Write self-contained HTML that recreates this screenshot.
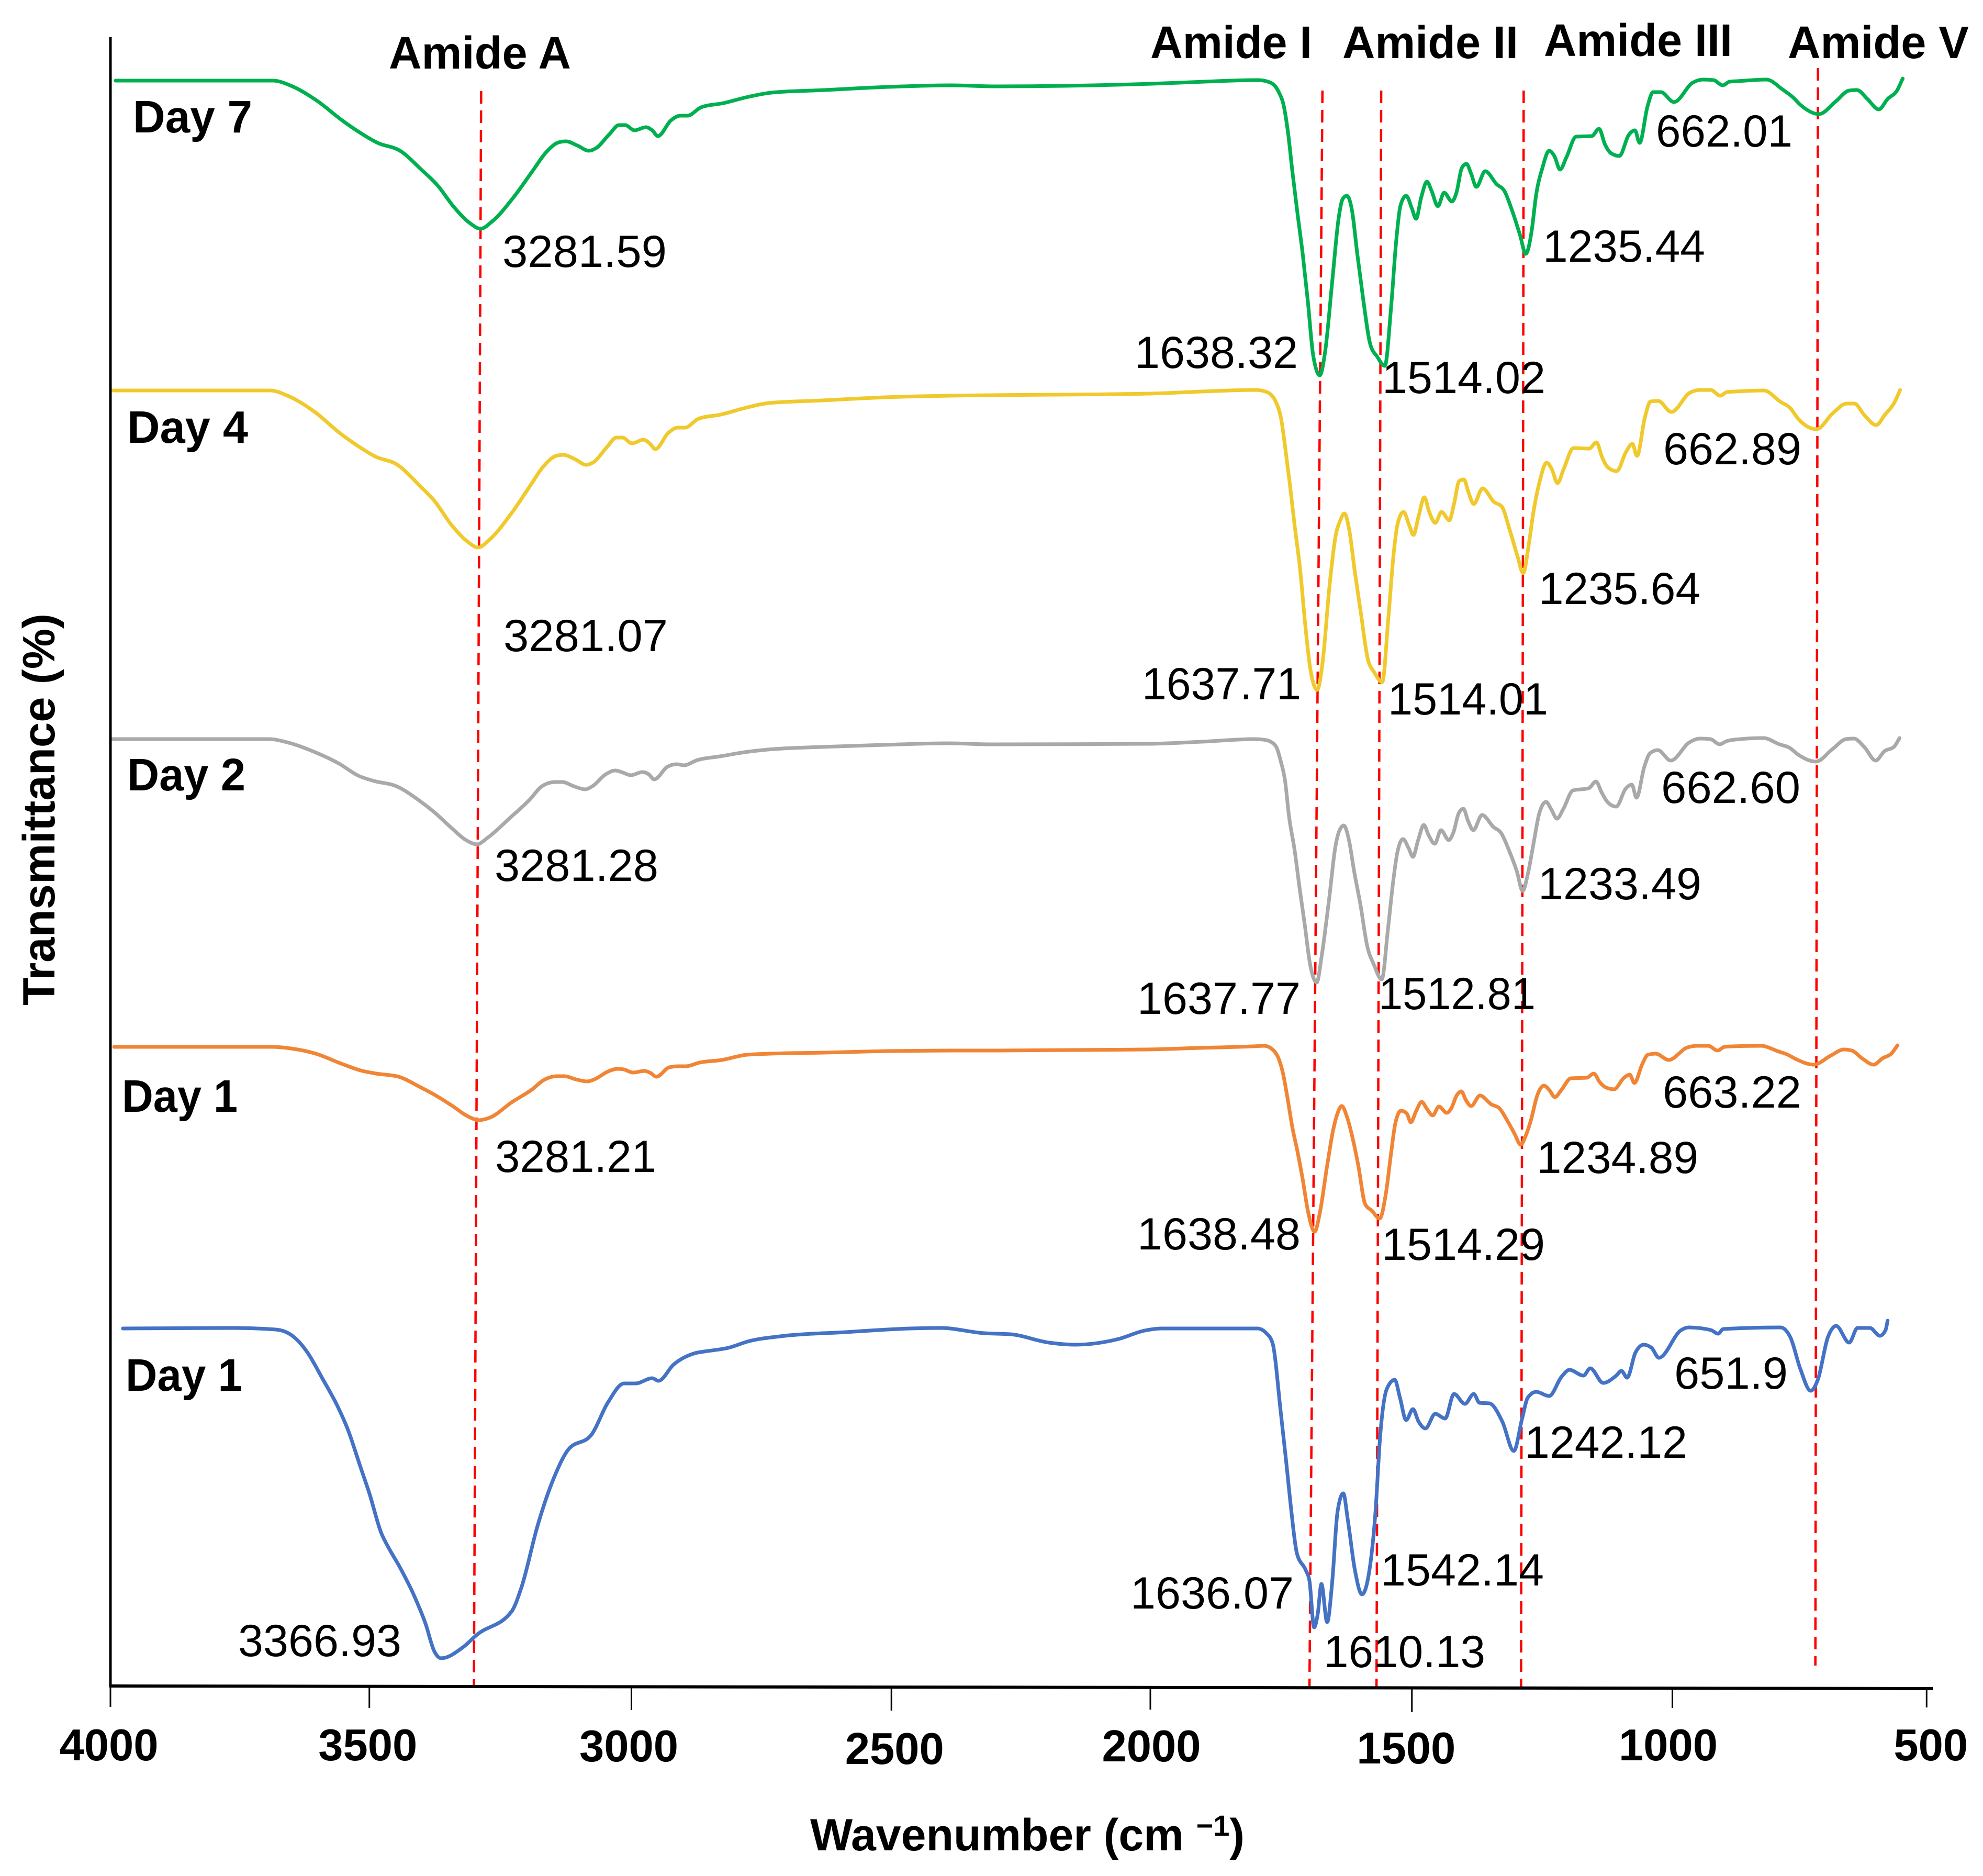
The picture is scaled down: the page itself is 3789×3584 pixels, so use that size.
<!DOCTYPE html>
<html lang="en">
<head>
<meta charset="utf-8">
<title>FTIR spectra</title>
<style>
html,body{margin:0;padding:0;background:#fff;}
svg{display:block;font-family:"Liberation Sans",sans-serif;fill:#000;}
.b{font-weight:700;font-size:87px;}
.n{font-size:86px;}
</style>
</head>
<body>
<svg id="chart" xmlns="http://www.w3.org/2000/svg" width="3789" height="3584" viewBox="0 0 3789 3584">
<rect width="3789" height="3584" fill="#fff"/>
<g id="markers"></g>
<g id="series"></g>
<g id="axes"></g>

<text class="b" x="743" y="131" textLength="348" lengthAdjust="spacingAndGlyphs">Amide A</text>
<text class="b" x="2198" y="111" textLength="309" lengthAdjust="spacingAndGlyphs">Amide I</text>
<text class="b" x="2565" y="111" textLength="336" lengthAdjust="spacingAndGlyphs">Amide II</text>
<text class="b" x="2950" y="107" textLength="360" lengthAdjust="spacingAndGlyphs">Amide III</text>
<text class="b" x="3416" y="111" textLength="346" lengthAdjust="spacingAndGlyphs">Amide V</text>

<text class="b" x="254" y="253" textLength="228" lengthAdjust="spacingAndGlyphs">Day 7</text>
<text class="b" x="243" y="846" textLength="231" lengthAdjust="spacingAndGlyphs">Day 4</text>
<text class="b" x="243" y="1510" textLength="226" lengthAdjust="spacingAndGlyphs">Day 2</text>
<text class="b" x="233" y="2124" textLength="221" lengthAdjust="spacingAndGlyphs">Day 1</text>
<text class="b" x="240" y="2657" textLength="223" lengthAdjust="spacingAndGlyphs">Day 1</text>

<text class="n" x="960" y="510" textLength="314" lengthAdjust="spacingAndGlyphs">3281.59</text>
<text class="n" x="2168" y="703" textLength="312" lengthAdjust="spacingAndGlyphs">1638.32</text>
<text class="n" x="2641" y="751" textLength="312" lengthAdjust="spacingAndGlyphs">1514.02</text>
<text class="n" x="2948" y="500" textLength="310" lengthAdjust="spacingAndGlyphs">1235.44</text>
<text class="n" x="3164" y="280" textLength="261" lengthAdjust="spacingAndGlyphs">662.01</text>

<text class="n" x="962" y="1244" textLength="314" lengthAdjust="spacingAndGlyphs">3281.07</text>
<text class="n" x="2182" y="1336" textLength="304" lengthAdjust="spacingAndGlyphs">1637.71</text>
<text class="n" x="2652" y="1365" textLength="306" lengthAdjust="spacingAndGlyphs">1514.01</text>
<text class="n" x="2940" y="1154" textLength="309" lengthAdjust="spacingAndGlyphs">1235.64</text>
<text class="n" x="3178" y="887" textLength="264" lengthAdjust="spacingAndGlyphs">662.89</text>

<text class="n" x="945" y="1683" textLength="313" lengthAdjust="spacingAndGlyphs">3281.28</text>
<text class="n" x="2173" y="1937" textLength="312" lengthAdjust="spacingAndGlyphs">1637.77</text>
<text class="n" x="2634" y="1928" textLength="300" lengthAdjust="spacingAndGlyphs">1512.81</text>
<text class="n" x="2939" y="1718" textLength="312" lengthAdjust="spacingAndGlyphs">1233.49</text>
<text class="n" x="3174" y="1534" textLength="266" lengthAdjust="spacingAndGlyphs">662.60</text>

<text class="n" x="946" y="2239" textLength="308" lengthAdjust="spacingAndGlyphs">3281.21</text>
<text class="n" x="2173" y="2387" textLength="312" lengthAdjust="spacingAndGlyphs">1638.48</text>
<text class="n" x="2640" y="2407" textLength="312" lengthAdjust="spacingAndGlyphs">1514.29</text>
<text class="n" x="2936" y="2241" textLength="309" lengthAdjust="spacingAndGlyphs">1234.89</text>
<text class="n" x="3177" y="2116" textLength="265" lengthAdjust="spacingAndGlyphs">663.22</text>

<text class="n" x="455" y="3164" textLength="312" lengthAdjust="spacingAndGlyphs">3366.93</text>
<text class="n" x="2160" y="3073" textLength="312" lengthAdjust="spacingAndGlyphs">1636.07</text>
<text class="n" x="2529" y="3185" textLength="309" lengthAdjust="spacingAndGlyphs">1610.13</text>
<text class="n" x="2638" y="3029" textLength="312" lengthAdjust="spacingAndGlyphs">1542.14</text>
<text class="n" x="2913" y="2785" textLength="311" lengthAdjust="spacingAndGlyphs">1242.12</text>
<text class="n" x="3199" y="2653" textLength="217" lengthAdjust="spacingAndGlyphs">651.9</text>

<text class="b" x="1548" y="3535" style="font-size:86px">Wavenumber (cm <tspan font-size="56" dy="-28">−1</tspan><tspan dy="28">)</tspan></text>
<text class="b" transform="translate(104,1921) rotate(-90)" textLength="749" lengthAdjust="spacingAndGlyphs" style="font-size:86px">Transmittance (%)</text>
</svg>

<script>
// Tick labels for the wavenumber axis (cm-1)
const xTicks = [4000, 3500, 3000, 2500, 2000, 1500, 1000, 500];

// Shared wavenumber grid for the four overlaid upper spectra (cm-1)
const wavenumbers = [3990,3688,3650,3602,3553,3516,3486,3443,3401,3371,3339,3309,3288,3267,3224,3187,3163,3138,3124,3102,3080,3066,3040,3022,3010,2992,2970,2958,2947,2922,2904,2890,2864,2821,2773,2729,2626,2504,2382,2300,1998,1896,1793,1771,1753,1743,1735,1727,1717,1707,1697,1687,1674,1664,1650,1638,1630,1622,1612,1602,1590,1577,1564,1549,1537,1527,1519,1508,1497,1489,1479,1468,1459,1447,1435,1420,1411,1401,1392,1383,1373,1356,1334,1319,1304,1289,1278,1267,1258,1246,1233,1223,1212,1200,1181,1151,1137,1126,1115,1098,1080,1068,1059,1044,1033,1018,993,957,937,917,899,886,870,815,784,764,749,714,682,656,641,621,599,582,564,553];

// Stacked transmittance (arbitrary units)
const day7 = [3067,3067,3056,3028,2990,2965,2948,2933,2896,2867,2825,2795,2784,2797,2845,2896,2929,2949,2951,2943,2933,2938,2965,2982,2982,2972,2978,2972,2961,2991,3000,3000,3016,3024,3036,3044,3049,3055,3058,3056,3061,3065,3068,3064,3045,3017,2966,2895,2813,2736,2645,2543,2504,2548,2685,2803,2841,2847,2818,2736,2645,2563,2540,2522,2634,2762,2828,2847,2823,2803,2844,2874,2856,2827,2853,2836,2854,2900,2908,2889,2864,2894,2869,2856,2818,2772,2736,2777,2849,2900,2933,2923,2897,2920,2960,2961,2975,2946,2929,2923,2963,2972,2948,3017,3045,3045,3026,3063,3069,3068,3058,3065,3066,3069,3050,3035,3020,3003,3027,3048,3049,3032,3012,3032,3048,3071];
const day4 = [2475,2475,2463,2434,2393,2367,2349,2333,2294,2263,2218,2187,2175,2189,2240,2294,2329,2350,2352,2344,2333,2338,2367,2385,2385,2374,2381,2374,2363,2394,2404,2404,2421,2429,2442,2451,2456,2462,2465,2466,2469,2473,2476,2472,2452,2418,2361,2298,2213,2134,2026,1941,1903,1953,2106,2201,2226,2240,2206,2131,2049,1963,1936,1918,2043,2164,2222,2243,2217,2199,2235,2271,2244,2222,2243,2227,2258,2302,2305,2280,2258,2288,2262,2253,2209,2159,2126,2182,2244,2302,2337,2325,2298,2325,2365,2364,2376,2347,2328,2321,2358,2373,2350,2423,2454,2455,2434,2471,2476,2476,2465,2472,2473,2475,2454,2441,2421,2401,2432,2450,2450,2427,2409,2429,2452,2476];
const day2 = [1809,1809,1802,1785,1762,1739,1729,1719,1693,1670,1641,1616,1608,1621,1659,1693,1719,1727,1727,1719,1713,1719,1742,1749,1746,1740,1746,1742,1732,1756,1761,1759,1769,1776,1784,1789,1794,1798,1801,1799,1800,1804,1809,1807,1796,1766,1730,1659,1600,1525,1454,1380,1344,1398,1505,1604,1635,1644,1616,1556,1493,1414,1378,1350,1446,1537,1592,1618,1600,1584,1616,1645,1626,1609,1635,1616,1631,1667,1676,1653,1635,1664,1641,1629,1596,1556,1519,1556,1604,1667,1689,1675,1657,1675,1711,1715,1728,1707,1689,1680,1714,1722,1697,1756,1782,1788,1768,1803,1810,1809,1799,1805,1808,1811,1799,1792,1780,1766,1790,1809,1810,1794,1768,1786,1794,1811];
const day1Orange = [1221,1221,1218,1208,1189,1176,1170,1164,1144,1128,1108,1088,1081,1086,1116,1139,1158,1165,1165,1159,1155,1159,1174,1179,1178,1172,1175,1171,1164,1182,1184,1184,1191,1196,1206,1208,1210,1213,1214,1214,1216,1219,1222,1223,1214,1198,1171,1128,1068,1021,968,908,868,904,994,1064,1094,1108,1088,1051,994,921,908,893,941,1018,1074,1099,1094,1077,1098,1116,1104,1090,1107,1095,1104,1128,1136,1119,1108,1128,1111,1104,1081,1054,1034,1054,1081,1128,1147,1139,1125,1138,1161,1162,1170,1154,1144,1140,1161,1168,1152,1188,1206,1208,1196,1220,1223,1223,1214,1221,1222,1223,1213,1206,1198,1187,1204,1216,1214,1199,1187,1199,1209,1224];

// Horizontal overlay offset of each spectrum in cm-1: [above 2000, below 2000]
const shiftDay7 = [0, 0];
const shiftDay4 = [5, 5];
const shiftDay2 = [7, 6];
const shiftDay1Orange = [3, 10];

// Bottom spectrum has its own sampling
const day1BlueWavenumbers = [3976,3762,3682,3650,3623,3592,3561,3543,3520,3502,3479,3466,3444,3417,3394,3377,3364,3322,3295,3228,3210,3178,3147,3120,3075,3043,3012,2990,2958,2946,2917,2875,2858,2812,2771,2712,2586,2462,2403,2320,2269,2195,2145,2061,2011,1978,1794,1777,1765,1749,1739,1730,1718,1701,1694,1685,1678,1671,1660,1650,1640,1629,1620,1607,1593,1580,1567,1558,1545,1530,1520,1508,1495,1484,1471,1452,1433,1416,1395,1378,1367,1348,1323,1301,1285,1274,1258,1233,1209,1194,1167,1154,1129,1104,1094,1083,1067,1051,1036,1022,979,965,922,908,898,788,769,750,730,716,697,681,656,640,616,597,586,582];
const day1Blue = [683,684,681,669,640,587,530,489,421,368,292,266,228,175,119,66,53,74,98,143,187,308,398,451,480,542,578,578,588,583,614,636,639,646,659,668,676,683,684,674,672,656,652,663,679,683,683,674,655,521,431,345,253,221,201,112,138,195,122,201,333,368,316,224,175,213,333,477,568,585,551,508,529,505,492,520,511,558,539,558,541,540,505,449,511,551,562,554,591,604,593,607,579,593,602,589,637,652,646,627,680,685,680,673,682,685,666,606,564,586,666,688,656,684,684,669,680,698];

// Amide marker lines, wavenumber at top and bottom of each dashed line
const markerNames = ['amide-a', 'amide-i', 'amide-ii', 'amide-iii', 'amide-v'];
const markerTopWavenumber = [3287, 1669, 1556, 1282, 716];
const markerBottomWavenumber = [3301, 1694, 1565, 1287, 721];
const markerTopLevel = [3047, 3048, 3048, 3048, 3091];
const markerBottomLevel = [-4, -4, -4, -4, 39];

const SVG_NS = 'http://www.w3.org/2000/svg';
function xScale(w) { return 211 + 0.9935 * (4000 - w); }
function yScale(t) { return 3221 - t; }

// Monotone (Steffen) spline through the points: no overshoot between samples
function curvePath(pts) {
  const n = pts.length, h = [], s = [], m = [];
  for (let i = 0; i < n - 1; i++) {
    h.push(pts[i + 1][0] - pts[i][0]);
    s.push((pts[i + 1][1] - pts[i][1]) / h[i]);
  }
  m.push(s[0]);
  for (let i = 1; i < n - 1; i++) {
    const p = (s[i - 1] * h[i] + s[i] * h[i - 1]) / (h[i - 1] + h[i]);
    const sign = (Math.sign(s[i - 1]) + Math.sign(s[i]));
    m.push(sign * Math.min(Math.abs(s[i - 1]), Math.abs(s[i]), 0.5 * Math.abs(p)));
  }
  m.push(s[n - 2]);
  let d = 'M' + pts[0][0].toFixed(1) + ' ' + pts[0][1].toFixed(1);
  for (let i = 0; i < n - 1; i++) {
    const third = h[i] / 3;
    d += 'C' + (pts[i][0] + third).toFixed(1) + ' ' + (pts[i][1] + m[i] * third).toFixed(1) + ' ' +
         (pts[i + 1][0] - third).toFixed(1) + ' ' + (pts[i + 1][1] - m[i + 1] * third).toFixed(1) + ' ' +
         pts[i + 1][0].toFixed(1) + ' ' + pts[i + 1][1].toFixed(1);
  }
  return d;
}

function drawSeries(name, grid, values, shift, color) {
  const pts = grid.map(function (w, i) {
    const s = w > 2000 ? shift[0] : shift[1];
    return [xScale(w + s), yScale(values[i])];
  });
  const path = document.createElementNS(SVG_NS, 'path');
  path.setAttribute('d', curvePath(pts));
  path.setAttribute('fill', 'none');
  path.setAttribute('stroke', color);
  path.setAttribute('stroke-width', '7');
  path.setAttribute('stroke-linejoin', 'round');
  path.setAttribute('stroke-linecap', 'round');
  
  
  document.getElementById('series').appendChild(path);
}

drawSeries('day-7-spectrum', wavenumbers, day7, shiftDay7, '#00B050');
drawSeries('day-4-spectrum', wavenumbers, day4, shiftDay4, '#F0C92C');
drawSeries('day-2-spectrum', wavenumbers, day2, shiftDay2, '#A9A9A9');
drawSeries('day-1-orange-spectrum', wavenumbers, day1Orange, shiftDay1Orange, '#F08535');
drawSeries('day-1-blue-spectrum', day1BlueWavenumbers, day1Blue, [0, 0], '#4472C4');

markerNames.forEach(function (name, i) {
  const line = document.createElementNS(SVG_NS, 'line');
  line.setAttribute('x1', xScale(markerTopWavenumber[i]));
  line.setAttribute('y1', yScale(markerTopLevel[i]));
  line.setAttribute('x2', xScale(markerBottomWavenumber[i]));
  line.setAttribute('y2', yScale(markerBottomLevel[i]));
  line.setAttribute('stroke', '#FF0000');
  line.setAttribute('stroke-width', '4.5');
  line.setAttribute('stroke-dasharray', '24 13');
  
  
  document.getElementById('markers').appendChild(line);
});

const axes = document.getElementById('axes');

const yAxisLine = document.createElementNS(SVG_NS, 'line');
yAxisLine.setAttribute('x1', 211);
yAxisLine.setAttribute('y1', 71);
yAxisLine.setAttribute('x2', 211);
yAxisLine.setAttribute('y2', 3223);
yAxisLine.setAttribute('stroke', '#000');
yAxisLine.setAttribute('stroke-width', '5');


axes.appendChild(yAxisLine);

const xAxisLine = document.createElementNS(SVG_NS, 'line');
xAxisLine.setAttribute('x1', 209);
xAxisLine.setAttribute('y1', 3221);
xAxisLine.setAttribute('x2', 3693);
xAxisLine.setAttribute('y2', 3226);
xAxisLine.setAttribute('stroke', '#000');
xAxisLine.setAttribute('stroke-width', '6');


axes.appendChild(xAxisLine);

// The original ticks were placed by hand: small per-tick layout nudges
const tickDx = [0, -2, 2, 2, 0, 3, 4, -7];
const tickEndDy = [-4, -2, 2, 3, 1, 6, -2, -3];
const labelDx = [-3, -5, -3, 8, 2, -8, -4, 1];
const labelDy = [-2, -2, 0, 5, 0, 4, -2, -2];

xTicks.forEach(function (v, i) {
  const x = xScale(v);
  const tick = document.createElementNS(SVG_NS, 'line');
  tick.setAttribute('x1', x + tickDx[i]);
  tick.setAttribute('y1', 3223);
  tick.setAttribute('x2', x + tickDx[i]);
  tick.setAttribute('y2', 3265 + tickEndDy[i]);
  tick.setAttribute('stroke', '#000');
  tick.setAttribute('stroke-width', '3');
  
  
  axes.appendChild(tick);

  const label = document.createElementNS(SVG_NS, 'text');
  label.setAttribute('x', x + labelDx[i]);
  label.setAttribute('y', 3365 + labelDy[i]);
  label.setAttribute('text-anchor', 'middle');
  label.setAttribute('font-weight', '700');
  label.setAttribute('font-size', '85');
  
  
  label.textContent = String(v);
  axes.appendChild(label);
});
</script>
</body>
</html>
